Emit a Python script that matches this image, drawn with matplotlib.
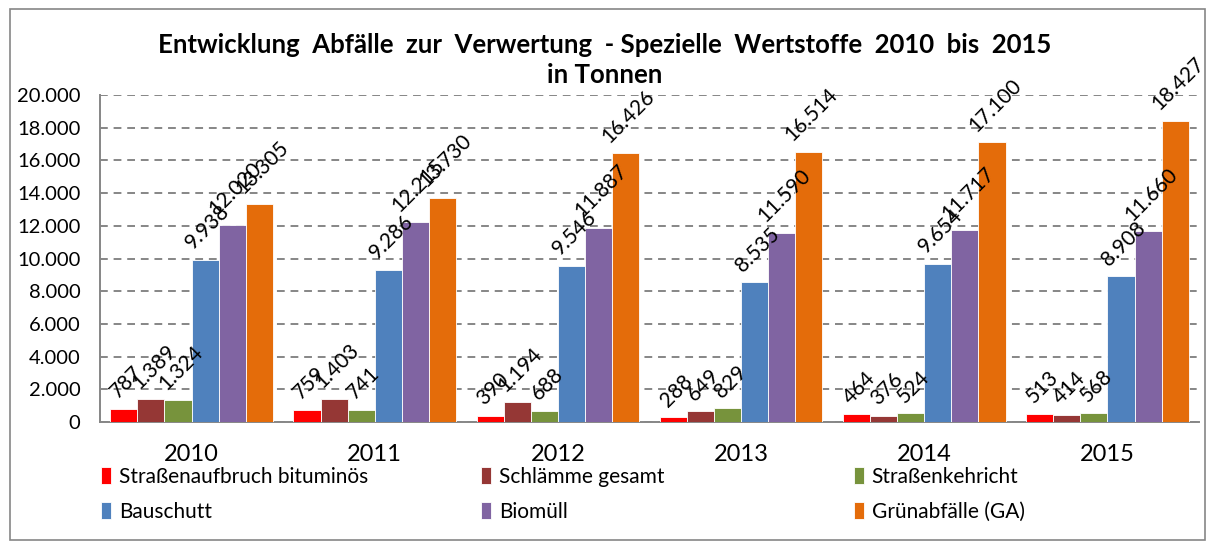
import matplotlib.pyplot as plt
import matplotlib.patches as patches
import matplotlib.ticker as ticker
import numpy as np

jahre = ['2010', '2011', '2012', '2013', '2014', '2015']
strassenaufbruch = [787, 759, 390, 288, 464, 513]
schlaemme = [1389, 1403, 1194, 649, 376, 414]
strassenkehricht = [1324, 741, 688, 829, 524, 568]
bauschutt = [9938, 9286, 9546, 8535, 9654, 8908]
biomuell = [12020, 12215, 11887, 11590, 11717, 11660]
gruenabfaelle = [13305, 13730, 16426, 16514, 17100, 18427]

namen = ['Straßenaufbruch bituminös', 'Schlämme gesamt', 'Straßenkehricht',
         'Bauschutt', 'Biomüll', 'Grünabfälle (GA)']
farben = ['#FF0000', '#953735', '#77933C', '#4F81BD', '#8064A2', '#E46C0A']
reihen = [strassenaufbruch, schlaemme, strassenkehricht, bauschutt, biomuell, gruenabfaelle]


def de_format(v, pos=None):
    return f'{int(round(v)):,}'.replace(',', '.')


plt.rcParams['font.family'] = ['Lato', 'DejaVu Sans']

fig = plt.figure(figsize=(12.1, 5.47), dpi=100)
ax = fig.add_axes([100 / 1210, 1 - 422 / 547, 1099 / 1210, 327 / 547])

x = np.arange(len(jahre))
w = 0.148
handles = []
for k, (werte, farbe) in enumerate(zip(reihen, farben)):
    pos = x + (k - 2.5) * w
    b = ax.bar(pos, werte, w, color=farbe, edgecolor='white', linewidth=0.6, zorder=3)
    handles.append(b)
    for px, v in zip(pos, werte):
        ax.annotate(de_format(v), (px, v), xytext=(2, 5), textcoords='offset points',
                    rotation=45, ha='center', va='bottom', fontsize=15, zorder=4)

ax.set_xlim(-0.5, 5.5)
ax.set_ylim(0, 20000)
ax.set_yticks(np.arange(0, 20001, 2000))
ax.yaxis.set_major_formatter(ticker.FuncFormatter(de_format))
ax.set_xticks(x)
ax.set_xticklabels(jahre, fontsize=17)
ax.tick_params(axis='y', length=0, pad=14, labelsize=14.5)
ax.tick_params(axis='x', length=0, pad=16)
ax.yaxis.grid(True, linestyle=(0, (4, 3)), color='#868686', linewidth=1.4, zorder=0)
for s in ['top', 'right']:
    ax.spines[s].set_visible(False)
for s in ['left', 'bottom']:
    ax.spines[s].set_color('#868686')
    ax.spines[s].set_linewidth(1.4)

fig.text(0.5, 1 - 45 / 547, 'Entwicklung  Abfälle  zur  Verwertung  - Spezielle  Wertstoffe  2010  bis  2015',
         ha='center', va='center', fontsize=18.5, fontweight='bold')
fig.text(0.5, 1 - 75 / 547, 'in Tonnen', ha='center', va='center', fontsize=18.5, fontweight='bold')

# Legende: drei Spalten, je zwei Zeilen
spalten_x = [101, 481, 854]
for i, sx in enumerate(spalten_x):
    fig.legend([handles[i], handles[i + 3]], [namen[i], namen[i + 3]],
               loc='upper left', bbox_to_anchor=(sx / 1210, 1 - 467 / 547),
               frameon=False, fontsize=15, handlelength=0.5, handleheight=0.9,
               handletextpad=0.35, labelspacing=0.7, borderaxespad=0, borderpad=0)

fig.patches.append(patches.Rectangle((10 / 1210, 1 - 540 / 547), 1195 / 1210, 531 / 547,
                                     transform=fig.transFigure, fill=False,
                                     edgecolor='#868686', linewidth=1.2))

fig.savefig('out.png', dpi=100)
